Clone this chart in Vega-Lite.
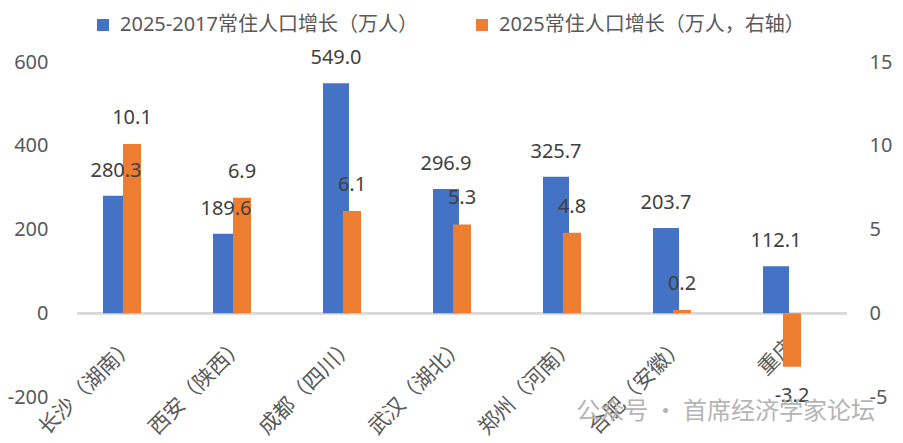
{
  "$schema": "https://vega.github.io/schema/vega-lite/v6.json",
  "width": 770,
  "height": 335,
  "autosize": {"type": "none"},
  "padding": {"left": 77, "top": 62, "right": 56, "bottom": 46},
  "background": "white",
  "title": {
    "text": "公众号 · 首席经济学家论坛",
    "orient": "bottom",
    "anchor": "end",
    "frame": "group",
    "offset": -38,
    "dx": 28,
    "fontSize": 24,
    "fontWeight": "normal",
    "font": "Noto Sans CJK SC",
    "color": "#b4b4b4",
    "opacity": 0.9
  },
  "data": {
    "values": [
      {"city": "长沙（湖南）", "series": "2025-2017常住人口增长（万人）", "value": 280.3},
      {"city": "西安（陕西）", "series": "2025-2017常住人口增长（万人）", "value": 189.6},
      {"city": "成都（四川）", "series": "2025-2017常住人口增长（万人）", "value": 549.0},
      {"city": "武汉（湖北）", "series": "2025-2017常住人口增长（万人）", "value": 296.9},
      {"city": "郑州（河南）", "series": "2025-2017常住人口增长（万人）", "value": 325.7},
      {"city": "合肥（安徽）", "series": "2025-2017常住人口增长（万人）", "value": 203.7},
      {"city": "重庆", "series": "2025-2017常住人口增长（万人）", "value": 112.1},
      {"city": "长沙（湖南）", "series": "2025常住人口增长（万人，右轴）", "value": 10.1},
      {"city": "西安（陕西）", "series": "2025常住人口增长（万人，右轴）", "value": 6.9},
      {"city": "成都（四川）", "series": "2025常住人口增长（万人，右轴）", "value": 6.1},
      {"city": "武汉（湖北）", "series": "2025常住人口增长（万人，右轴）", "value": 5.3},
      {"city": "郑州（河南）", "series": "2025常住人口增长（万人，右轴）", "value": 4.8},
      {"city": "合肥（安徽）", "series": "2025常住人口增长（万人，右轴）", "value": 0.2},
      {"city": "重庆", "series": "2025常住人口增长（万人，右轴）", "value": -3.2}
    ]
  },
  "transform": [
    {"calculate": "replace(format(datum.value, '.1f'), '−', '-')", "as": "label"}
  ],
  "encoding": {
    "x": {
      "field": "city",
      "type": "nominal",
      "scale": {
        "type": "band",
        "paddingInner": 0,
        "paddingOuter": 0,
        "domain": ["长沙（湖南）", "西安（陕西）", "成都（四川）", "武汉（湖北）", "郑州（河南）", "合肥（安徽）", "重庆"]
      },
      "axis": {
        "title": null,
        "offset": -84,
        "domain": false,
        "ticks": false,
        "labelAngle": -45,
        "labelAlign": "right",
        "labelBaseline": "middle",
        "labelPadding": 29,
        "labelFontSize": 21,
        "labelColor": "#595959",
        "labelFont": "Noto Sans CJK SC",
        "labelOverlap": false
      }
    }
  },
  "layer": [
    {
      "transform": [{"filter": "datum.series == '2025-2017常住人口增长（万人）'"}],
      "layer": [
        {
          "mark": {"type": "rule", "color": "#d9d9d9", "strokeWidth": 2},
          "encoding": {"x": null, "y": {"datum": 0, "type": "quantitative"}}
        },
        {
          "mark": {"type": "bar", "width": 26, "xOffset": -16},
          "encoding": {
            "y": {
              "field": "value",
              "type": "quantitative",
              "scale": {"domain": [-200, 600], "nice": false},
              "axis": {
                "title": null,
                "orient": "left",
                "values": [-200, 0, 200, 400, 600],
                "domain": false,
                "ticks": false,
                "grid": false,
                "labelPadding": 29,
                "labelFontSize": 20,
                "labelColor": "#595959",
                "labelFont": "Noto Sans, Noto Sans CJK SC",
                "labelExpr": "replace(datum.label, '−', '-')"
              }
            },
            "color": {
              "field": "series",
              "type": "nominal",
              "scale": {
                "domain": ["2025-2017常住人口增长（万人）", "2025常住人口增长（万人，右轴）"],
                "range": ["#4472C4", "#ED7D31"]
              },
              "legend": {
                "title": null,
                "orient": "none",
                "direction": "horizontal",
                "legendX": 16,
                "legendY": -47,
                "symbolType": "square",
                "symbolSize": 144,
                "symbolStrokeWidth": 0,
                "labelFontSize": 20,
                "labelColor": "#595959",
                "labelFont": "Noto Sans, Noto Sans CJK SC",
                "labelOffset": 7,
                "columnPadding": 54,
                "labelLimit": 400
              }
            }
          }
        }
      ]
    },
    {
      "transform": [{"filter": "datum.series == '2025常住人口增长（万人，右轴）'"}],
      "mark": {"type": "bar", "width": 18},
      "encoding": {
        "y": {
          "field": "value",
          "type": "quantitative",
          "scale": {"domain": [-5, 15], "nice": false},
          "axis": {
            "title": null,
            "orient": "right",
            "values": [-5, 0, 5, 10, 15],
            "domain": false,
            "ticks": false,
            "grid": false,
            "labelPadding": 22,
            "labelFontSize": 20,
            "labelColor": "#595959",
            "labelFont": "Noto Sans, Noto Sans CJK SC",
            "labelExpr": "replace(datum.label, '−', '-')"
          }
        },
        "color": {"field": "series", "type": "nominal"}
      }
    },
    {
      "transform": [{"filter": "datum.series == '2025-2017常住人口增长（万人）'"}],
      "mark": {"type": "text", "dx": -16, "dy": -25, "baseline": "middle", "fontSize": 20, "color": "#404040", "font": "Noto Sans, Noto Sans CJK SC"},
      "encoding": {
        "y": {"field": "value", "type": "quantitative", "scale": {"domain": [-200, 600], "nice": false}, "axis": null},
        "text": {"field": "label", "type": "nominal"}
      }
    },
    {
      "transform": [{"filter": "datum.series == '2025常住人口增长（万人，右轴）'"}],
      "layer": [
        {
          "transform": [{"filter": "datum.value >= 0"}],
          "mark": {"type": "text", "dy": -26, "baseline": "middle", "fontSize": 20, "color": "#404040", "font": "Noto Sans, Noto Sans CJK SC"},
          "encoding": {
            "y": {"field": "value", "type": "quantitative", "scale": {"domain": [-5, 15], "nice": false}, "axis": null},
            "text": {"field": "label", "type": "nominal"}
          }
        },
        {
          "transform": [{"filter": "datum.value < 0"}],
          "mark": {"type": "text", "dy": 29, "baseline": "middle", "fontSize": 20, "color": "#404040", "font": "Noto Sans, Noto Sans CJK SC"},
          "encoding": {
            "y": {"field": "value", "type": "quantitative", "axis": null},
            "text": {"field": "label", "type": "nominal"}
          }
        }
      ]
    }
  ],
  "resolve": {"scale": {"y": "independent"}},
  "config": {"view": {"stroke": null}}
}
